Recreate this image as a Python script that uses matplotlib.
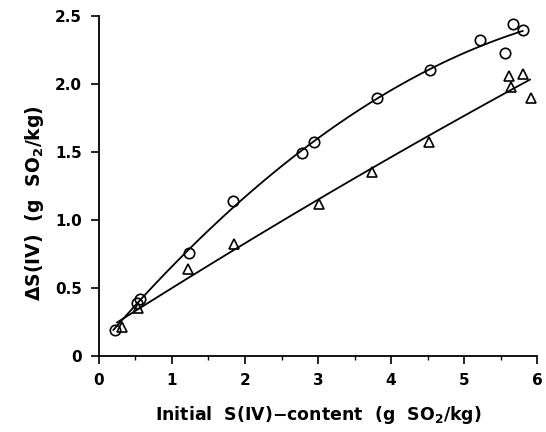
import matplotlib
matplotlib.use('Agg')
import matplotlib.pyplot as plt
import numpy as np

plt.rcParams['font.family'] = 'DejaVu Sans'
plt.rcParams['font.weight'] = 'bold'
plt.rcParams['mathtext.fontset'] = 'custom'
plt.rcParams['mathtext.rm'] = 'DejaVu Sans:bold'
plt.rcParams['mathtext.it'] = 'DejaVu Sans:bold'
plt.rcParams['mathtext.bf'] = 'DejaVu Sans:bold'

# circles (upper series)
circ_x = [0.22, 0.52, 0.56, 1.24, 1.84, 2.78, 2.94, 3.81, 4.53, 5.22, 5.56, 5.67, 5.81]
circ_y = [0.19, 0.39, 0.42, 0.76, 1.14, 1.49, 1.57, 1.90, 2.10, 2.32, 2.23, 2.44, 2.40]

# triangles (lower series)
tri_x = [0.32, 0.53, 1.22, 1.85, 3.01, 3.74, 4.52, 5.62, 5.64, 5.81, 5.92]
tri_y = [0.21, 0.35, 0.64, 0.82, 1.12, 1.35, 1.57, 2.06, 1.98, 2.07, 1.90]

x_ticks = [0, 1, 2, 3, 4, 5, 6]
y_ticks = [0, 0.5, 1.0, 1.5, 2.0, 2.5]
y_ticklabels = ['0', '0.5', '1.0', '1.5', '2.0', '2.5']

fig = plt.figure(figsize=(5.46, 4.32), dpi=100)
ax = fig.add_axes([0.181, 0.176, 0.803, 0.787])

# fitted curves through each series
pc = np.polyfit(circ_x, circ_y, 2)
xc = np.linspace(0.2, 5.8, 100)
ax.plot(xc, np.polyval(pc, xc), color='black', lw=1.3)

pt = np.polyfit(tri_x, tri_y, 2)
xt = np.linspace(0.25, 5.9, 100)
ax.plot(xt, np.polyval(pt, xt), color='black', lw=1.3)

ax.plot(circ_x, circ_y, 'o', mfc='none', mec='black', ms=7.5, mew=1.2)
ax.plot(tri_x, tri_y, '^', mfc='none', mec='black', ms=6.5, mew=1.2)

ax.set_xlim(0, 6)
ax.set_ylim(0, 2.5)
ax.set_xticks(x_ticks)
ax.set_xticks(np.arange(0.5, 6, 1), minor=True)
ax.set_yticks(y_ticks)
ax.set_yticklabels(y_ticklabels)

ax.spines['top'].set_visible(False)
ax.spines['right'].set_visible(False)
ax.spines['left'].set_linewidth(1.3)
ax.spines['bottom'].set_linewidth(1.3)
ax.tick_params(which='major', direction='out', length=6, width=1.2, labelsize=11, pad=6)
ax.tick_params(which='minor', direction='out', length=3, width=1.0)

ax.set_xlabel(r'Initial  S(IV)$-$content  (g  SO$_2$/kg)', fontsize=12.5, fontweight='bold', labelpad=12)
ax.set_ylabel(r'$\Delta$S(IV)  (g  SO$_2$/kg)', fontsize=13.5, fontweight='bold')
ax.yaxis.set_label_coords(-0.12, 0.45)

fig.savefig('out.png', dpi=100)
